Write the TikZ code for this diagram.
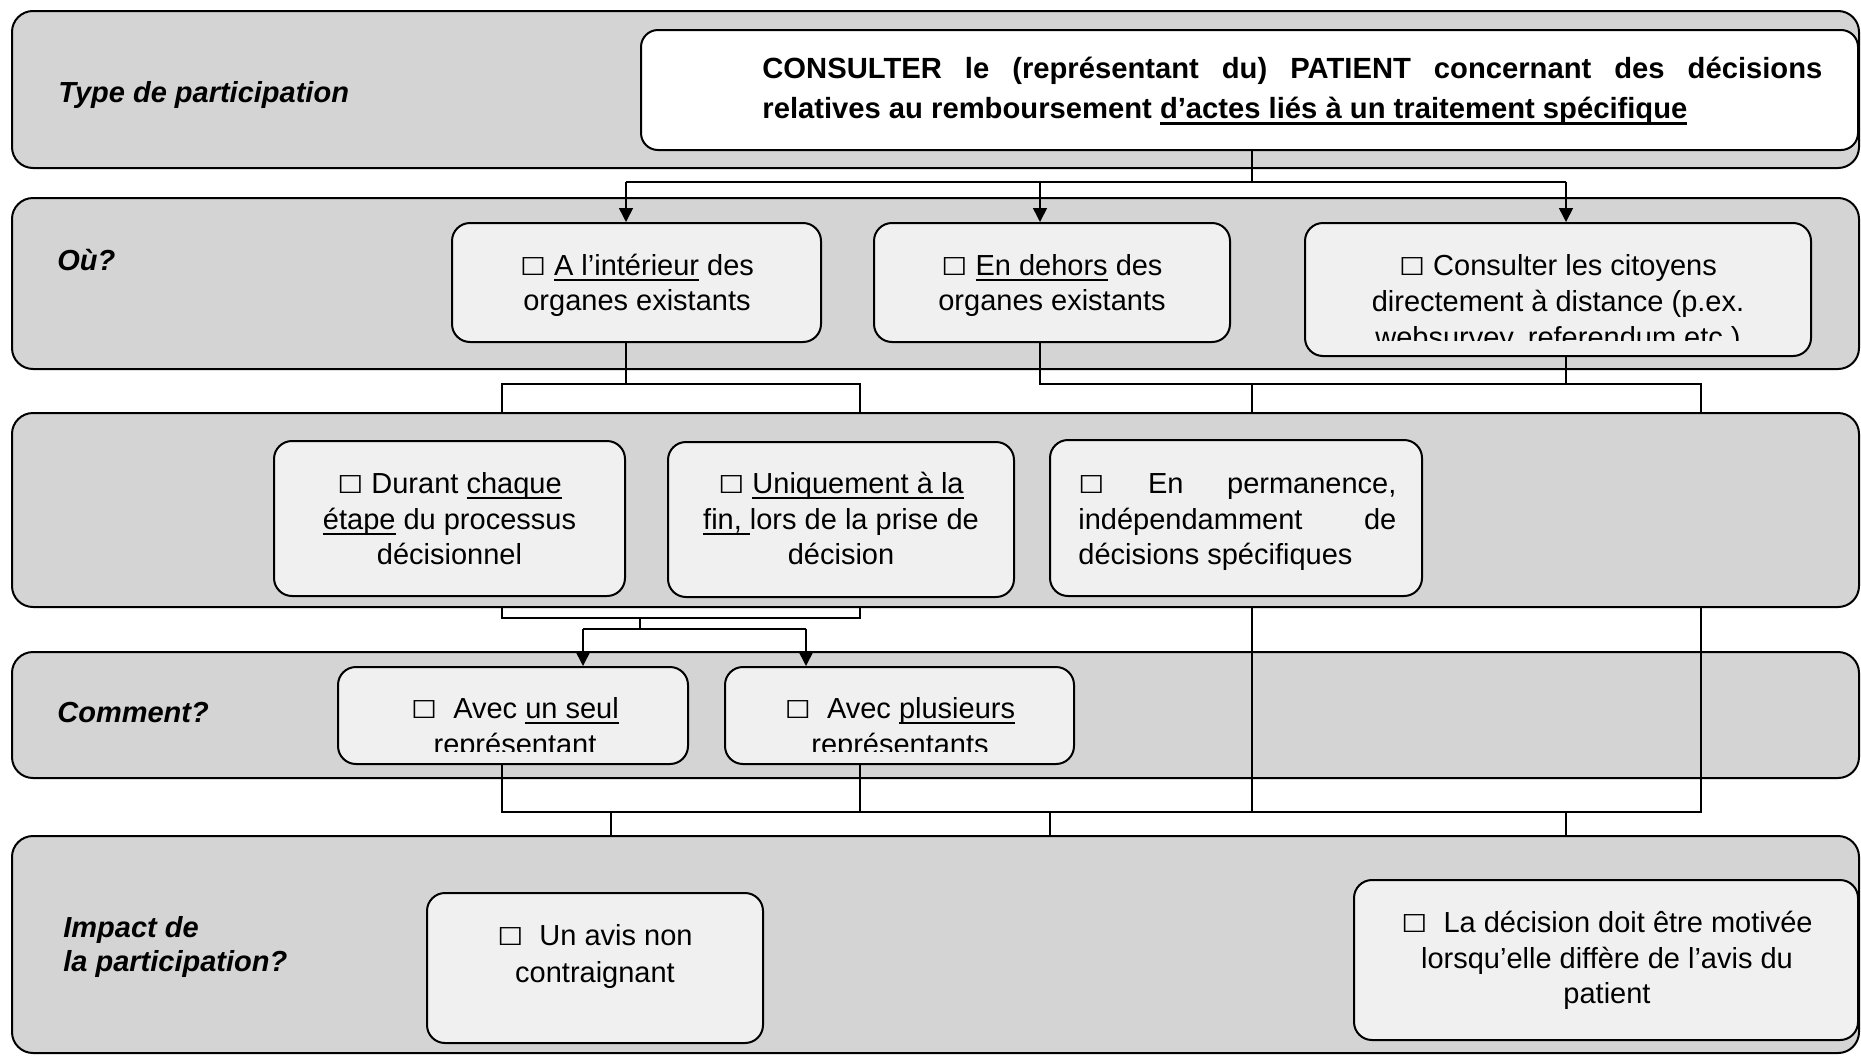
\documentclass[tikz,border=0pt]{standalone}
\usepackage{fontspec}
\setmainfont{Liberation Sans}
\newfontfamily\dejavu{DejaVu Sans}
\usetikzlibrary{fit,arrows.meta}
\definecolor{bandgray}{RGB}{212,212,212}
\definecolor{boxgray}{RGB}{240,240,240}
\newcommand\myul[1]{\leavevmode\setbox0=\hbox{#1}\rlap{\rule[-3pt]{\wd0}{0.9pt}}\box0\relax}
\newcommand\myulb[1]{\leavevmode\setbox0=\hbox{#1}\rlap{\rule[-3.3pt]{\wd0}{1.4pt}}\box0\relax}
\newcommand\cbx{{\dejavu\scalebox{1}[0.85]{☐}}}
\tikzset{
 band/.style={draw=black, line width=1pt, fill=bandgray, rounded corners=10.5pt, inner sep=0pt},
 box/.style={draw=black, line width=1pt, fill=boxgray, rounded corners=9pt, inner sep=0pt},
 wbox/.style={draw=black, line width=1pt, fill=white, rounded corners=8.5pt, inner sep=0pt},
 conn/.style={draw=black, line width=0.8pt},
 arr/.style={conn, -{Triangle[width=7pt,length=7pt]}},
 txt/.style={inner sep=0pt, anchor=base, font=\fontsize{14.5pt}{17.75pt}\selectfont},
 txtw/.style={txt, anchor=base west},
 lbl/.style={inner sep=0pt, anchor=base west, font=\fontsize{14.5pt}{17.75pt}\selectfont\bfseries\itshape},
 boldtxt/.style={inner sep=0pt, anchor=base west, font=\fontsize{14.6pt}{17.75pt}\selectfont\bfseries},
}
\begin{document}
\begin{tikzpicture}[x=0.5pt,y=-0.5pt]
\useasboundingbox (0,0) rectangle (1861,1055);
% bands
\node[band, fit={(12,11) (1859,168)}] (T1) {};
\node[band, fit={(12,198) (1859,369)}] (T2) {};
\node[band, fit={(12,413) (1859,607)}] (T3) {};
\node[band, fit={(12,652) (1859,778)}] (T4) {};
\node[band, fit={(12,836) (1859,1053)}] (T5) {};
% band labels
\node[lbl] (L1) at (58,102) {Type de participation};
\node[lbl] (L2) at (57,270) {Où?};
\node[lbl] (L4) at (57,722) {Comment?};
\node[lbl] (L5a) at (63,937) {Impact de};
\node[lbl] (L5b) at (63,971) {la participation?};
% boxes
\node[wbox, fit={(641,30) (1858,150)}] (W) {};
\node[box, fit={(452,223) (821,342)}] (A) {};
\node[box, fit={(874,223) (1230,342)}] (B) {};
\node[box, fit={(1305,223) (1811,356)}] (C) {};
\node[box, fit={(274,441) (625,596)}] (D) {};
\node[box, fit={(668,442) (1014,597)}] (E) {};
\node[box, fit={(1050,440) (1422,596)}] (F) {};
\node[box, fit={(338,667) (688,764)}] (G) {};
\node[box, fit={(725,667) (1074,764)}] (H) {};
\node[box, fit={(427,893) (763,1043)}] (I) {};
\node[box, fit={(1354,880) (1858,1040)}] (J) {};
% texts
\node[boldtxt] (W1) at (762,78) {\hbox to 530pt{CONSULTER\hfill le\hfill (représentant\hfill du)\hfill PATIENT\hfill concernant\hfill des\hfill décisions}};
\node[boldtxt] (W2) at (762,118) {relatives au remboursement \myulb{d’actes liés à un traitement spécifique}};
\node[txt] (A1) at (637,275) {\cbx\ \myul{A l’intérieur} des};
\node[txt] (A2) at (637,310) {organes existants};
\node[txt] (B1) at (1052,275) {\cbx\ \myul{En dehors} des};
\node[txt] (B2) at (1052,310) {organes existants};
\node[txt] (C1) at (1558,275) {\cbx\ Consulter les citoyens};
\node[txt] (C2) at (1558,311) {directement à distance (p.ex.};
\begin{scope}
\clip (1305,223) rectangle (1811,340.5);
\node[txt] (C3) at (1558,347) {websurvey, referendum etc.)};
\end{scope}
\node[txt] (D1) at (449.5,493) {\cbx\ Durant \myul{chaque}};
\node[txt] (D2) at (449.5,529) {\myul{étape} du processus};
\node[txt] (D3) at (449.5,564) {décisionnel};
\node[txt] (E1) at (841,493) {\cbx\ \myul{Uniquement à la}};
\node[txt] (E2) at (841,529) {\myul{fin, }lors de la prise de};
\node[txt] (E3) at (841,564) {décision};
\node[txtw] (F1) at (1078,493) {\hbox to 159pt{\cbx\hfill En\hfill permanence,}};
\node[txtw] (F2) at (1078,529) {\hbox to 159pt{indépendamment\hfill de}};
\node[txtw] (F3) at (1078,564) {décisions spécifiques};
\node[txt] (G1) at (515,718) {\cbx\ \ Avec \myul{un seul}};
\node[txt] (H1) at (900,718) {\cbx\ \ Avec \myul{plusieurs}};
\begin{scope}
\clip (338,667) rectangle (1074,751);
\node[txt] (G2) at (515,754) {représentant};
\node[txt] (H2) at (900,754) {représentants};
\end{scope}
\node[txt] (I1) at (595,945) {\cbx\ \ Un avis non};
\node[txt] (I2) at (595,982) {contraignant};
\node[txt] (J1) at (1607,932) {\cbx\ \ La décision doit être motivée};
\node[txt] (J2) at (1607,968) {lorsqu’elle diffère de l’avis du};
\node[txt] (J3) at (1607,1003) {patient};
% reference coordinates
\coordinate (xA) at (626,0);
\coordinate (xB) at (1040,0);
\coordinate (xC) at (1566,0);
\coordinate (xL) at (502,0);
\coordinate (xR) at (860,0);
\coordinate (xM) at (1252,0);
\coordinate (xN) at (1701,0);
\coordinate (xG) at (583,0);
\coordinate (xH) at (806,0);
\coordinate (xE) at (640,0);
\coordinate (xI) at (611,0);
\coordinate (xJ) at (1050,0);
\coordinate (yb1) at (0,182);
\coordinate (yb2) at (0,384);
\coordinate (yb3) at (0,618);
\coordinate (yb4) at (0,629);
\coordinate (yb5) at (0,812);
% connectors
\draw[conn] (W.south -| xM) -- (xM |- yb1);
\draw[conn] (xA |- yb1) -- (xC |- yb1);
\draw[arr] (xA |- yb1) -- (A.north -| xA);
\draw[arr] (xB |- yb1) -- (B.north -| xB);
\draw[arr] (xC |- yb1) -- (C.north -| xC);
\draw[conn] (A.south -| xA) -- (xA |- yb2);
\draw[conn] (T3.north -| xL) -- (xL |- yb2) -- (xR |- yb2) -- (T3.north -| xR);
\draw[conn] (B.south -| xB) -- (xB |- yb2) -- (xN |- yb2) -- (T3.north -| xN);
\draw[conn] (C.south -| xC) -- (xC |- yb2);
\draw[conn] (xM |- yb2) -- (T3.north -| xM);
\draw[conn] (T3.south -| xL) -- (xL |- yb3) -- (xR |- yb3) -- (T3.south -| xR);
\draw[conn] (xE |- yb3) -- (xE |- yb4);
\draw[conn] (xG |- yb4) -- (xH |- yb4);
\draw[arr] (xG |- yb4) -- (G.north -| xG);
\draw[arr] (xH |- yb4) -- (H.north -| xH);
\draw[conn] (T3.south -| xM) -- (xM |- yb5);
\draw[conn] (T3.south -| xN) -- (xN |- yb5) -- (xL |- yb5) -- (G.south -| xL);
\draw[conn] (H.south -| xR) -- (xR |- yb5);
\draw[conn] (xI |- yb5) -- (T5.north -| xI);
\draw[conn] (xJ |- yb5) -- (T5.north -| xJ);
\draw[conn] (xC |- yb5) -- (T5.north -| xC);
\end{tikzpicture}
\end{document}
